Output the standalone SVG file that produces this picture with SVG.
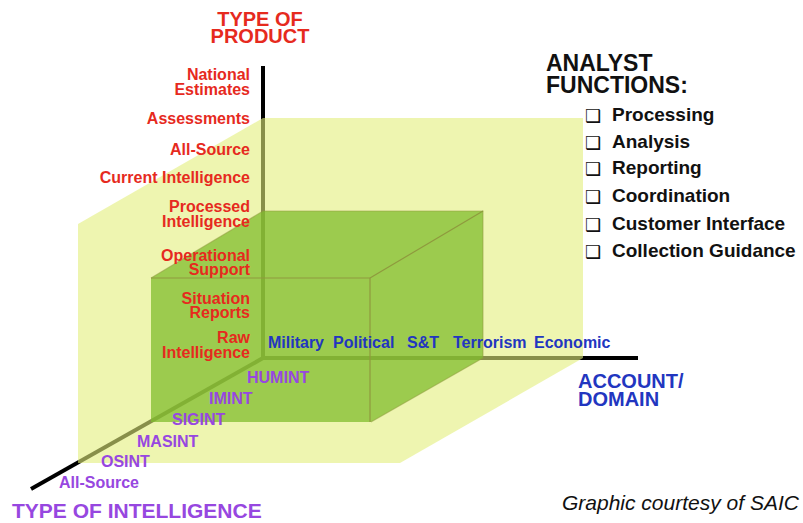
<svg xmlns="http://www.w3.org/2000/svg" width="803" height="523" viewBox="0 0 803 523">
<style>
  text { font-family: "Liberation Sans", Arial, sans-serif; font-weight: bold; }
  .red { fill: #e62a1e; font-size: 16px; text-anchor: end; }
  .pur { fill: #9747e0; font-size: 16px; }
  .blu { fill: #2236c0; font-size: 16px; }
  .chk { fill: #111; font-size: 19px; }
  .box { font-family: "DejaVu Sans", sans-serif; font-weight: normal; font-size: 18px; fill: #111; }
  .axis { stroke: #000; stroke-width: 4; fill: none; }
  .edge { stroke: #8f9a3e; stroke-width: 1.2; fill: none; }
</style>
<rect width="803" height="523" fill="#fff"/>
<g id="connectors">
  <line class="axis" x1="263" y1="66" x2="263" y2="358"/>
  <line class="axis" x1="263" y1="358" x2="638" y2="358"/>
  <line class="axis" x1="263" y1="358" x2="31" y2="489"/>
</g>
<g id="outer-box">
  <polygon points="78,224 263,118 583,118 583,358 400,463 78,463" fill="#e3ee7b" fill-opacity="0.6"/>
</g>
<g id="inner-box">
  <polygon points="151,278 263,211 483,211 483,358 371,422 151,422" fill="#80bc2e" fill-opacity="0.75"/>
  <polyline class="edge" points="151,278 370,278 370,422"/>
  <line class="edge" x1="370" y1="278" x2="483" y2="211"/>
  <polyline class="edge" points="151,278 263,211 483,211 483,358 371,422" stroke-opacity="0.5"/>
</g>
<g id="product-axis">
  <text x="260" y="26" style="fill:#e62a1e;font-size:20px;text-anchor:middle">TYPE OF</text>
  <text x="260" y="43" style="fill:#e62a1e;font-size:20px;text-anchor:middle">PRODUCT</text>
  <text class="red" x="250" y="80">National</text>
  <text class="red" x="250" y="95">Estimates</text>
  <text class="red" x="250" y="124">Assessments</text>
  <text class="red" x="250" y="155">All-Source</text>
  <text class="red" x="250" y="183">Current Intelligence</text>
  <text class="red" x="250" y="212">Processed</text>
  <text class="red" x="250" y="227">Intelligence</text>
  <text class="red" x="250" y="261">Operational</text>
  <text class="red" x="250" y="275">Support</text>
  <text class="red" x="250" y="304">Situation</text>
  <text class="red" x="250" y="318">Reports</text>
  <text class="red" x="250" y="343">Raw</text>
  <text class="red" x="250" y="358">Intelligence</text>
</g>
<g id="domain-axis">
  <text class="blu" x="268" y="348">Military</text>
  <text class="blu" x="333" y="348">Political</text>
  <text class="blu" x="407" y="348">S&amp;T</text>
  <text class="blu" x="453" y="348">Terrorism</text>
  <text class="blu" x="534" y="348">Economic</text>
  <text x="578" y="388" style="fill:#2236c0;font-size:20px">ACCOUNT/</text>
  <text x="578" y="406" style="fill:#2236c0;font-size:20px">DOMAIN</text>
</g>
<g id="intelligence-axis">
  <text class="pur" x="247" y="383">HUMINT</text>
  <text class="pur" x="209" y="404">IMINT</text>
  <text class="pur" x="172" y="425">SIGINT</text>
  <text class="pur" x="137" y="447">MASINT</text>
  <text class="pur" x="101" y="467">OSINT</text>
  <text class="pur" x="59" y="488">All-Source</text>
  <text x="12" y="518" style="fill:#9747e0;font-size:21px">TYPE OF INTELLIGENCE</text>
</g>
<g id="analyst-functions">
  <text x="546" y="71" style="fill:#111;font-size:23px">ANALYST</text>
  <text x="546" y="93" style="fill:#111;font-size:23px">FUNCTIONS:</text>
  <text class="box" x="585" y="122">❑</text><text class="chk" x="612" y="121">Processing</text>
  <text class="box" x="585" y="149">❑</text><text class="chk" x="612" y="148">Analysis</text>
  <text class="box" x="585" y="175">❑</text><text class="chk" x="612" y="174">Reporting</text>
  <text class="box" x="585" y="203">❑</text><text class="chk" x="612" y="202">Coordination</text>
  <text class="box" x="585" y="231">❑</text><text class="chk" x="612" y="230">Customer Interface</text>
  <text class="box" x="585" y="258">❑</text><text class="chk" x="612" y="257">Collection Guidance</text>
</g>
<text x="562" y="510" style="font-weight:normal;font-style:italic;font-size:21px;fill:#111">Graphic courtesy of SAIC</text>
</svg>
